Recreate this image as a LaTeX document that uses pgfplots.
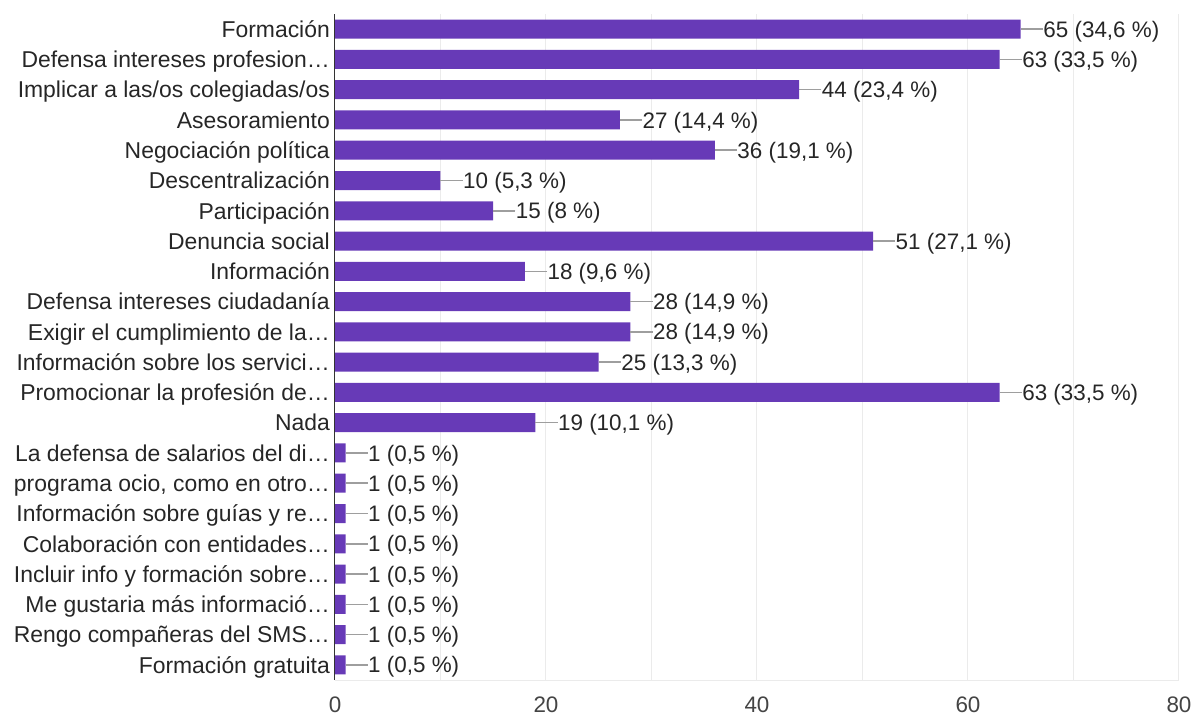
\documentclass[border=0pt]{standalone}
\usepackage{pgfplots}
\pgfplotsset{compat=1.18}
\usepackage{fontspec}
\setmainfont{Liberation Sans}
\definecolor{barc}{HTML}{673AB7}
\definecolor{gridc}{HTML}{EBEBEB}
\definecolor{txt}{HTML}{262626}
\definecolor{tk}{HTML}{444444}
\definecolor{lead}{HTML}{9E9E9E}
\newcommand{\lblfont}{\fontsize{22.5}{26}\selectfont}
\newcommand{\ylblfont}{\fontsize{23}{26}\selectfont}
\begin{document}
\begin{tikzpicture}
\path[use as bounding box] (-335bp,-36bp) rectangle (858bp,680bp);
\begin{axis}[
  at={(0,0)}, anchor=south west,
  scale only axis, width=844bp, height=666bp,
  xbar, bar width=19bp, bar shift=0pt,
  xmin=0, xmax=80, ymin=-0.5, ymax=21.5, y dir=reverse,
  xtick={0,20,...,80}, minor xtick={10,30,50,70},
  ytick={0,...,21},
  yticklabels={Formación, Defensa intereses profesion…, Implicar a las/os colegiadas/os, Asesoramiento, Negociación política, Descentralización, Participación, Denuncia social, Información, Defensa intereses ciudadanía, Exigir el cumplimiento de la…, Información sobre los servici…, Promocionar la profesión de…, Nada, La defensa de salarios del di…, {programa ocio, como en otro…}, Información sobre guías y re…, Colaboración con entidades…, Incluir info y formación sobre…, Me gustaria más informació…, Rengo compañeras del SMS…, Formación gratuita},
  xmajorgrids, xminorgrids,
  major grid style={draw=gridc, line width=1bp},
  minor grid style={draw=gridc, line width=1bp},
  axis line style={draw=none},
  major tick length=0pt, minor tick length=0pt,
  tick style={draw=none},
  /pgf/number format/assume math mode=true,
  xticklabel style={font=\lblfont, text=tk, inner sep=0pt, anchor=north, text height=16.1bp, text depth=0pt},
  xticklabel shift=16bp,
  yticklabel style={font=\ylblfont, text=txt, inner sep=0pt, anchor=east, text height=16.5bp, text depth=0pt},
  yticklabel shift=5bp,
  point meta=explicit symbolic,
  nodes near coords,
  nodes near coords style={anchor=west, inner sep=0pt, xshift=22.5bp, font=\lblfont, text=txt, text height=16.1bp, text depth=0pt},
  clip=false,
]
\addplot[fill=barc, draw=none,
  error bars/.cd, x dir=plus, x fixed=2.1, error mark=none,
  error bar style={draw=lead, line width=1.5bp}]
coordinates {
(65,0) [65 (34,6 \%)]
(63,1) [63 (33,5 \%)]
(44,2) [44 (23,4 \%)]
(27,3) [27 (14,4 \%)]
(36,4) [36 (19,1 \%)]
(10,5) [10 (5,3 \%)]
(15,6) [15 (8 \%)]
(51,7) [51 (27,1 \%)]
(18,8) [18 (9,6 \%)]
(28,9) [28 (14,9 \%)]
(28,10) [28 (14,9 \%)]
(25,11) [25 (13,3 \%)]
(63,12) [63 (33,5 \%)]
(19,13) [19 (10,1 \%)]
(1,14) [1 (0,5 \%)]
(1,15) [1 (0,5 \%)]
(1,16) [1 (0,5 \%)]
(1,17) [1 (0,5 \%)]
(1,18) [1 (0,5 \%)]
(1,19) [1 (0,5 \%)]
(1,20) [1 (0,5 \%)]
(1,21) [1 (0,5 \%)]
};
\draw[gridc, line width=1bp] (axis description cs:0,0) -- (axis description cs:1,0);
\draw[black!80, line width=1bp] (axis description cs:0,0) -- (axis description cs:0,1);
\end{axis}
\end{tikzpicture}
\end{document}
